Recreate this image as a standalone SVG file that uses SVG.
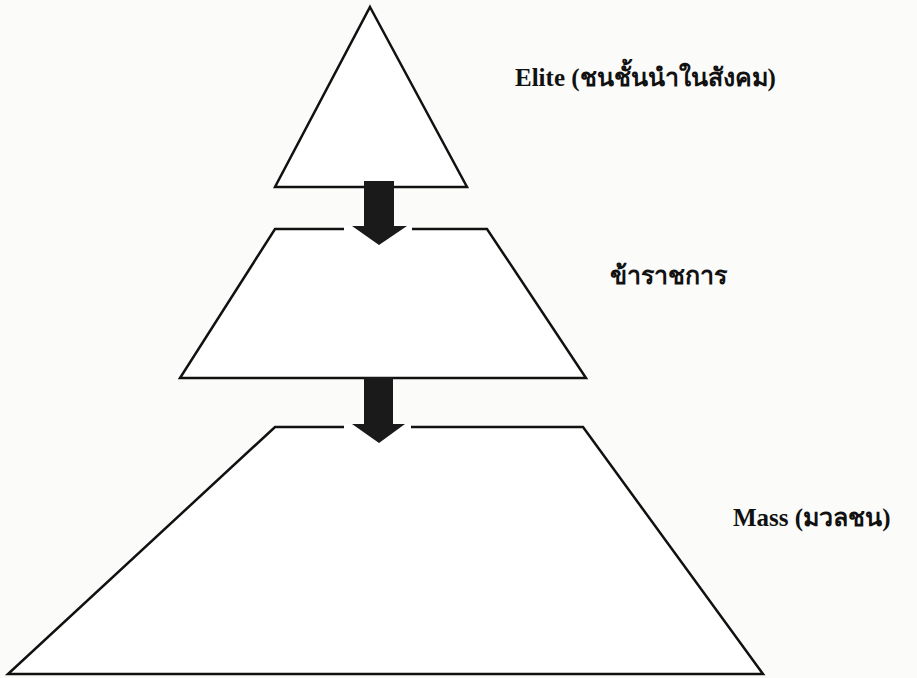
<svg xmlns="http://www.w3.org/2000/svg" width="917" height="678" viewBox="0 0 917 678">
<style>
.shape{fill:#fff;stroke:#111;stroke-width:2.5;stroke-linejoin:miter}
.lbl{font-family:"Liberation Serif","Noto Sans",serif;font-weight:bold;font-size:25px;fill:#111}
.arrow{fill:#1a1a1a}
.gap{fill:#fff}
</style>
<rect width="917" height="678" fill="#fbfbfa"/>
<g id="elite">
<polygon class="shape" points="370,7 467,187 275,187"/>
<text class="lbl" x="515" y="86">Elite (ชนชั้นนำในสังคม)</text>
</g>
<g id="officials">
<polygon class="shape" points="275,229 487,229 586,378 180,378"/>
<text class="lbl" x="610" y="284">ข้าราชการ</text>
</g>
<g id="mass">
<polygon class="shape" points="275,427 583,427 763,674 8,674"/>
<text class="lbl" x="733" y="526">Mass (มวลชน)</text>
</g>
<g id="connectors">
<rect class="gap" x="344" y="226" width="68" height="6"/>
<polygon class="arrow" points="364,181 394,181 394,226 407,226 379,245 352,226 364,226"/>
<rect class="gap" x="344" y="424" width="67" height="6"/>
<polygon class="arrow" points="364,377 393,377 393,424 405,424 379,443 352,424 364,424"/>
</g>
</svg>
